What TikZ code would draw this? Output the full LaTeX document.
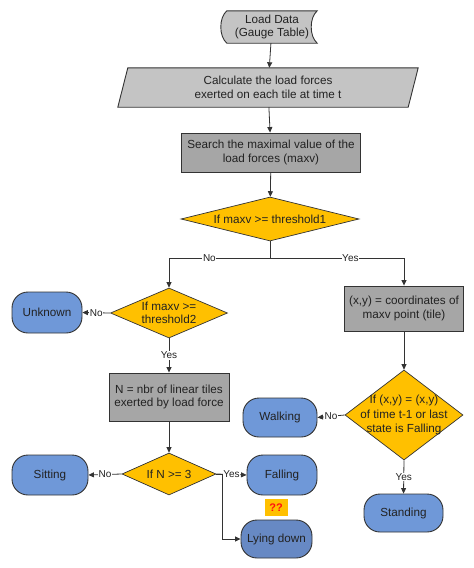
\documentclass[tikz,border=0pt]{standalone}
\usepackage{fontspec}
\setmainfont{Liberation Sans}
\usetikzlibrary{shapes.geometric,arrows.meta,backgrounds}
\definecolor{lineC}{HTML}{333333}
\definecolor{grayA}{HTML}{C4C4C4}
\definecolor{grayB}{HTML}{A6A6A6}
\definecolor{dia}{HTML}{FFC000}
\definecolor{blueT}{HTML}{6F98D8}
\definecolor{blueD}{HTML}{6789C4}
\definecolor{txt}{HTML}{222222}
\definecolor{qqred}{HTML}{FF1010}
\tikzset{
  mainfont/.style={font=\fontsize{11.7}{13.5}\selectfont, text=txt},
  box/.style={mainfont, draw=lineC, fill=grayB, line width=0.9pt, align=center, inner sep=0pt},
  plain/.style={mainfont, align=center, inner sep=0pt},
  term/.style={mainfont, draw=lineC, fill=blueT, line width=0.9pt, rounded corners=16pt, inner sep=0pt},
  dec/.style={diamond, draw=lineC, fill=dia, line width=0.7pt, inner sep=0pt},
  dtext/.style={mainfont, align=center, inner sep=0pt},
  link/.style={draw=lineC, line width=0.8pt},
  conn/.style={link, -{Triangle[length=5.5pt,width=5pt]}},
  lbl/.style={fill=white, inner sep=0.6pt, font=\fontsize{10}{11}\selectfont, text=txt},
}
\begin{document}
\begin{tikzpicture}[x=1pt,y=-1pt]
\useasboundingbox (0,0) rectangle (474,568);

% Load data (stored data shape)
\node[plain, minimum width=90, minimum height=32] (load) at (272,27) {Load Data\\(Gauge Table)};
% Calculate (parallelogram)
\node[plain, minimum width=290, minimum height=39] (calc) at (268,87.5) {Calculate the load forces\\exerted on each tile at time t};
\begin{scope}[on background layer]
  \filldraw[draw=lineC, fill=grayA, line width=0.9pt]
    (load.north west) .. controls +(-8,7) and +(-8,-7) .. (load.south west)
    -- (load.south east) .. controls +(-8,-7) and +(-8,7) .. (load.north east) -- cycle;
  \filldraw[draw=lineC, fill=grayA, line width=0.9pt]
    ([xshift=5pt]calc.north west) -- ([xshift=5pt]calc.north east)
    -- ([xshift=-5pt]calc.south east) -- ([xshift=-5pt]calc.south west) -- cycle;
\end{scope}

\node[box, minimum width=179, minimum height=39] (search) at (271,152.5) {Search the maximal value of the\\load forces (maxv)};
\node[dec, minimum width=178, minimum height=44, label={[dtext]center:If maxv >= threshold1}] (d1) at (270,219) {};
\coordinate (j1) at (270,258);

\node[dec, minimum width=117, minimum height=50, label={[dtext]center:If maxv >=\\threshold2}] (d2) at (169,313) {};
\node[term, minimum width=70, minimum height=41] (unknown) at (47,312.5) {Unknown};
\node[box, minimum width=119, minimum height=45] (xy) at (404,308.5) {(x,y) = coordinates of\\maxv point (tile)};
\node[box, minimum width=120, minimum height=48] (nbox) at (169,397) {N = nbr of linear tiles\\exerted by load force};
\node[dec, minimum width=118, minimum height=90, label={[dtext, font=\fontsize{11.7}{14.5}\selectfont]center:If (x,y) = (x,y)\\of time t-1 or last\\state is Falling}] (d4) at (404,415) {};
\node[term, minimum width=74, minimum height=39] (walking) at (280,417.5) {Walking};
\node[dec, minimum width=94, minimum height=42, label={[dtext]center:If N >= 3}] (d3) at (169,474) {};
\node[term, minimum width=76, minimum height=40] (sitting) at (50,475) {Sitting};
\node[term, minimum width=70, minimum height=40] (falling) at (282,475) {Falling};
\node[fill=dia, minimum width=23, minimum height=17, inner sep=0pt, text=qqred, font=\fontsize{11}{12}\selectfont\bfseries] (qq) at (276,507.5) {??};
\node[term, fill=blueD, minimum width=71, minimum height=38] (lying) at (276.5,539) {Lying down};
\node[term, minimum width=79, minimum height=38] (standing) at (403.5,513) {Standing};

% connectors
\draw[conn] (load) -- (calc);
\draw[conn] (calc) -- (search);
\draw[conn] (search) -- (d1);
\draw[link] (d1.south) -- (j1);
\draw[conn] (j1) -| node[lbl, pos=0.3] {No} (d2.north);
\draw[conn] (j1) -| node[lbl, pos=0.3] {Yes} (xy.north);
\draw[conn] (d2.west) -- node[lbl] {No} (unknown.east);
\draw[conn] (d2.south) -- node[lbl] {Yes} (nbox.north);
\draw[conn] (nbox.south) -- (d3.north);
\draw[conn] (d3.west) -- node[lbl] {No} (sitting.east);
\draw[conn] (d3.east) -- node[lbl] {Yes} (falling.west);
\draw[conn] (d3.east) -- ++(6,0) |- (lying.west);
\draw[conn] (xy.south) -- (d4.north);
\draw[conn] (d4.west) -- node[lbl] {No} (walking.east);
\draw[conn] (d4.south) -- node[lbl] {Yes} (standing.north);
\end{tikzpicture}
\end{document}
